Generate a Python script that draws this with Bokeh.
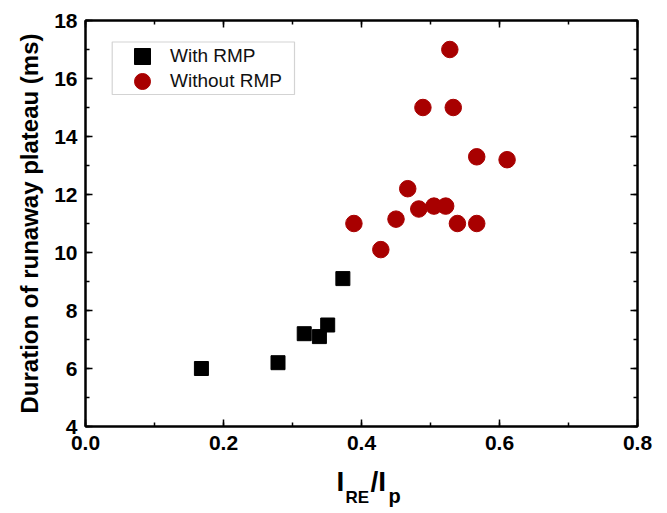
from bokeh.plotting import figure
from bokeh.layouts import column
from bokeh.models import (Range1d, LinearAxis, SingleIntervalTicker, PrintfTickFormatter,
                          Legend, LegendItem, BoxAnnotation)
from bokeh.core.properties import value
from bokeh.embed import file_html
from bokeh.resources import INLINE

# ---- data ----
rmp_x = [0.168, 0.279, 0.317, 0.339, 0.351, 0.373]
rmp_y = [6.0, 6.2, 7.2, 7.1, 7.5, 9.1]

norm_x = [0.528, 0.489, 0.533, 0.567, 0.611, 0.467, 0.483, 0.505, 0.522,
          0.389, 0.450, 0.539, 0.567, 0.428]
norm_y = [17.0, 15.0, 15.0, 13.3, 13.2, 12.2, 11.5, 11.6, 11.6,
          11.0, 11.15, 11.0, 11.0, 10.1]

series_labels = ["With RMP", "Without RMP"]
y_title = "Duration of runaway plateau (ms)"
x_title_parts = ["I", "RE", "/I", "p"]

# ---- layout ----
W, H_MAIN, H_TITLE = 667, 465, 48
BL, BR, BT, BB = 85, 30, 20, 39
X0, X1 = 0.0, 0.8
Y0, Y1 = 4, 18
FONT = "Liberation Sans"
FRAME_H = H_MAIN - BT - BB
TITLE_SHIFT = 12  # measured vertical offset of the strip's text


def dx(px):
    return X0 + (px - BL) / (W - BL - BR) * (X1 - X0)


def dy(py):
    return Y0 + (H_MAIN - BB - py) / FRAME_H * (Y1 - Y0)


p = figure(width=W, height=H_MAIN, x_range=Range1d(X0, X1), y_range=Range1d(Y0, Y1),
           output_backend="svg", toolbar_location=None,
           min_border_left=BL, min_border_right=BR, min_border_top=BT, min_border_bottom=BB)
p.grid.visible = False
p.outline_line_color = "black"
p.outline_line_width = 2
p.background_fill_color = "white"
p.border_fill_color = "white"

xt = SingleIntervalTicker(interval=0.2, num_minor_ticks=2)
yt = SingleIntervalTicker(interval=2, num_minor_ticks=2)


def style_axis(ax, labels=True):
    ax.axis_line_color = "black"
    ax.axis_line_width = 2
    ax.major_tick_in = 7
    ax.major_tick_out = 0
    ax.minor_tick_in = 4
    ax.minor_tick_out = 0
    ax.major_tick_line_width = 1.5
    ax.minor_tick_line_width = 1.5
    ax.major_tick_line_color = "black"
    ax.minor_tick_line_color = "black"
    if labels:
        ax.major_label_text_font = FONT
        ax.major_label_text_font_style = "bold"
        ax.major_label_text_font_size = "21px"
        ax.major_label_text_color = "black"
    else:
        ax.major_label_text_font_size = "0px"
        ax.major_label_standoff = 0
        ax.major_label_text_alpha = 0


xa = p.xaxis[0]
xa.ticker = xt
xa.formatter = PrintfTickFormatter(format="%.1f")
style_axis(xa)
xa.major_label_standoff = 9

ya = p.yaxis[0]
ya.ticker = yt
style_axis(ya)
ya.major_label_standoff = 8
ya.axis_label = y_title
ya.axis_label_text_font = FONT
ya.axis_label_text_font_style = "bold"
ya.axis_label_text_font_size = "24px"
ya.axis_label_text_color = "black"
ya.axis_label_standoff = 8

top = LinearAxis(ticker=xt)
style_axis(top, labels=False)
p.add_layout(top, "above")
right = LinearAxis(ticker=yt)
style_axis(right, labels=False)
p.add_layout(right, "right")

r1 = p.scatter(rmp_x, rmp_y, marker="square", size=14, color="black")
r2 = p.scatter(norm_x, norm_y, marker="circle", size=16.5, color="#a80000")

# legend frame
box = BoxAnnotation(left=dx(111.7), right=dx(294), top=dy(41.5), bottom=dy(94),
                    fill_color="white", fill_alpha=1.0,
                    line_color="#6e6e6e", line_width=1.2)
p.add_layout(box)

# one legend per entry so the rows can sit close together with large markers
row_centers = [56.5, 81.0]
for lab, rend, cy in zip(series_labels, [r1, r2], row_centers):
    lg = Legend(items=[LegendItem(label=lab, renderers=[rend])],
                location=(37, round(H_MAIN - BB - (cy + 20))),
                glyph_width=40, glyph_height=40,
                padding=0, spacing=0, label_standoff=8, margin=0,
                border_line_alpha=0, background_fill_alpha=0,
                label_text_font=FONT, label_text_font_size="19px",
                label_text_color="#111111")
    p.add_layout(lg)

# ---- x-axis title strip: I_RE / I_p ----
t = figure(width=W, height=H_TITLE, title=None,
           x_range=Range1d(BL, W - BR), y_range=Range1d(H_TITLE, 0),
           output_backend="svg", toolbar_location=None,
           x_axis_type=None, y_axis_type=None,
           min_border_left=BL, min_border_right=BR, min_border_top=0, min_border_bottom=0)
t.grid.visible = False
t.outline_line_color = None
t.border_fill_color = "white"
t.background_fill_color = "white"

part_x = [336, 345, 370, 388]
part_y = [493, 509, 493, 507]
part_fs = ["28px", "17px", "28px", "20px"]
for txt, x, y, fs in zip(x_title_parts, part_x, part_y, part_fs):
    t.text(x=[x], y=[y - H_MAIN - TITLE_SHIFT], text=[txt], text_font=value(FONT),
           text_font_style="bold", text_font_size=fs, text_color="black",
           text_align="left", text_baseline="alphabetic")

layout = column(p, t, spacing=0)
open("out.html", "w").write(file_html(layout, INLINE))
